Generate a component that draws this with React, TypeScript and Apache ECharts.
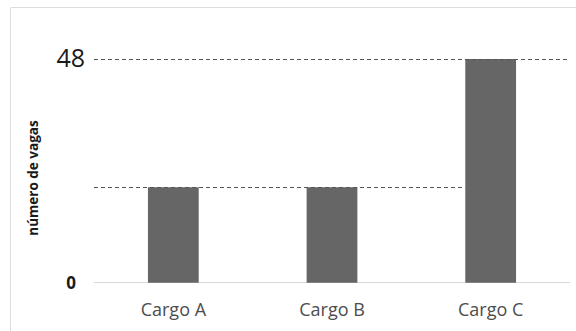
import React, { useEffect, useRef } from "react";
import * as echarts from "echarts";

const categories = ["Cargo A", "Cargo B", "Cargo C"];
const vagas = [20.5, 20.5, 48];
const yMin = 0;
const yMax = 48;
const yTitle = "número de vagas";

export default function App() {
  const ref = useRef<HTMLDivElement>(null);

  useEffect(() => {
    if (!ref.current) return;
    const chart = echarts.init(ref.current, null, { renderer: "svg" });
    const barFrac = 0.32;
    const option: any = {
      animation: false,
      backgroundColor: "#ffffff",
      grid: { left: 94, right: 6, top: 59, bottom: 48.3, containLabel: false },
      xAxis: {
        type: "category",
        data: categories,
        axisLine: { lineStyle: { color: "#d9d9d9", width: 1 } },
        axisTick: { show: false },
        axisLabel: {
          margin: 17,
          fontFamily: "Open Sans",
          fontSize: 18,
          color: "#4d4d4d",
        },
      },
      yAxis: {
        type: "value",
        min: yMin,
        max: yMax,
        interval: 48,
        axisLine: { show: false },
        axisTick: { show: false },
        splitLine: { show: false },
        axisLabel: {
          margin: 9,
          formatter: (v: number) => (v === yMax ? `{big|${v}}` : `{small|${v}}`),
          rich: {
            big: { fontFamily: "Open Sans", fontSize: 25, color: "#1a1a1a", padding: [0, 0, 5, 0] },
            small: { fontFamily: "Open Sans", fontSize: 17, fontWeight: "bold", color: "#1a1a1a", padding: [0, 9, 0, 0] },
          },
        },
      },
      graphic: [
        {
          type: "rect",
          shape: { x: 10.5, y: 7.5, width: 700, height: 500 },
          style: { fill: "none", stroke: "#dedede", lineWidth: 1 },
          z: -10,
          silent: true,
        },
        {
          type: "text",
          x: 33,
          y: 178,
          rotation: Math.PI / 2,
          style: {
            text: yTitle,
            fontFamily: "Open Sans",
            fontSize: 13.5,
            fontWeight: "bold",
            fill: "#1a1a1a",
            align: "center",
            verticalAlign: "middle",
          },
        },
      ],
      series: [
        {
          type: "bar",
          data: vagas,
          barWidth: `${barFrac * 100}%`,
          itemStyle: { color: "#666666" },
        },
      ],
    };
    chart.setOption(option);

    const pa = chart.convertToPixel({ xAxisIndex: 0 }, categories[0]) as number;
    const pb = chart.convertToPixel({ xAxisIndex: 0 }, categories[1]) as number;
    const pc = chart.convertToPixel({ xAxisIndex: 0 }, categories[2]) as number;
    const band = pb - pa;
    const left = pa - band / 2;
    const right = pc - (band * barFrac) / 2;

    chart.setOption({
      series: [
        {
          markLine: {
            silent: true,
            symbol: "none",
            label: { show: false },
            lineStyle: { color: "#555555", type: [4, 3], width: 1 },
            data: [
              { yAxis: yMax },
              [
                { x: left, yAxis: vagas[0] },
                { x: right, yAxis: vagas[0] },
              ],
            ],
          },
        },
      ],
    });

    return () => chart.dispose();
  }, []);

  return (
    <div
      ref={ref}
      style={{ position: "fixed", left: 0, top: 0, width: 576, height: 331 }}
    />
  );
}
